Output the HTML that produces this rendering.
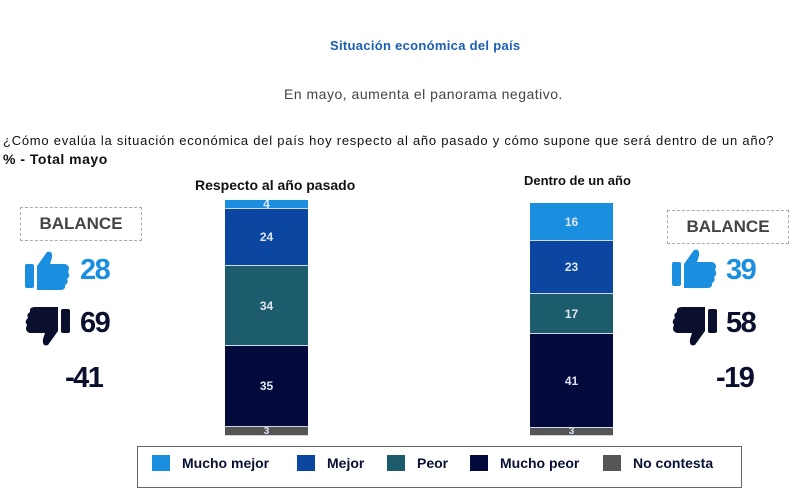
<!DOCTYPE html><html><head><meta charset="utf-8"><style>
body{margin:0;width:800px;height:473px;background:#fff;position:relative;overflow:hidden;font-family:"Liberation Sans",sans-serif;}
.a{position:absolute;white-space:nowrap}
.seg{position:absolute;left:0;width:100%;color:#dfe6f0;font-size:12px;font-weight:bold;display:flex;align-items:center;justify-content:center;border-bottom:1px solid #cfd8e6;box-sizing:border-box}
.bal{position:absolute;border:1.5px dashed #aaa;font-size:17px;font-weight:bold;color:#444;display:flex;align-items:center;justify-content:center}
.num{position:absolute;font-size:29px;font-weight:bold;letter-spacing:-1.5px}
.lg{position:absolute;top:455px;font-size:14px;font-weight:bold;color:#0a1035;display:flex;align-items:center}
.lg i{display:inline-block;width:18px;height:16px;margin-right:12px}
</style></head><body>
<div class="a" style="left:330px;top:38px;font-size:13px;font-weight:bold;color:#1a5fb4;letter-spacing:0.3px">Situación económica del país</div>
<div class="a" style="left:284px;top:86px;font-size:14px;color:#444;letter-spacing:0.5px">En mayo, aumenta el panorama negativo.</div>
<div class="a" style="left:3px;top:133px;font-size:13px;color:#111;letter-spacing:0.75px">¿Cómo evalúa la situación económica del país hoy respecto al año pasado y cómo supone que será dentro de un año?</div>
<div class="a" style="left:3px;top:151px;font-size:14px;font-weight:bold;color:#111;letter-spacing:0.5px">% - Total mayo</div>
<div class="a" style="left:195px;top:177px;font-size:14px;font-weight:bold;color:#111">Respecto al año pasado</div>
<div class="a" style="left:524px;top:173px;font-size:13px;font-weight:bold;color:#111">Dentro de un año</div>

<div class="a" style="left:225px;top:200px;width:83px;height:236px">
<div class="seg" style="top:0;height:9px;background:#1a8fe0">4</div>
<div class="seg" style="top:9px;height:57px;background:#0b47a0">24</div>
<div class="seg" style="top:66px;height:80px;background:#1d5c6c">34</div>
<div class="seg" style="top:146px;height:81px;background:#050a3c">35</div>
<div class="seg" style="top:227px;height:9px;background:#555;font-size:10px">3</div>
</div>
<div class="a" style="left:530px;top:203px;width:83px;height:233px">
<div class="seg" style="top:0;height:38px;background:#1a8fe0">16</div>
<div class="seg" style="top:38px;height:53px;background:#0b47a0">23</div>
<div class="seg" style="top:91px;height:40px;background:#1d5c6c">17</div>
<div class="seg" style="top:131px;height:94px;background:#050a3c">41</div>
<div class="seg" style="top:225px;height:8px;background:#555;font-size:10px">3</div>
</div>

<div class="bal" style="left:20px;top:207px;width:120px;height:32px">BALANCE</div>
<div class="bal" style="left:667px;top:210px;width:120px;height:32px">BALANCE</div>

<svg class="a" style="left:25px;top:250px" width="46" height="42" viewBox="0 0 46 42"><rect x="0" y="14" width="9" height="24" rx="2" fill="#1a8fe0"/><path d="M12 16 L22 2 Q28 0 27 8 L25 14 L40 14 Q46 16 43 22 Q46 26 42 29 Q44 33 40 35 Q41 40 35 40 L12 40Z" fill="#1a8fe0"/></svg>
<div class="num" style="left:80px;top:254px;color:#1a8fe0">28</div>
<svg class="a" style="left:24px;top:305px" width="46" height="42" viewBox="0 0 46 42"><rect x="37" y="4" width="9" height="24" rx="2" fill="#0a0f2e"/><path d="M34 26 L24 40 Q18 42 19 34 L21 28 L6 28 Q0 26 3 20 Q0 16 4 13 Q2 9 6 7 Q5 2 11 2 L34 2Z" fill="#0a0f2e"/></svg>
<div class="num" style="left:80px;top:307px;color:#0a0f2e">69</div>
<div class="num" style="left:65px;top:362px;color:#0a0f2e">-41</div>

<svg class="a" style="left:672px;top:248px" width="46" height="42" viewBox="0 0 46 42"><rect x="0" y="14" width="9" height="24" rx="2" fill="#1a8fe0"/><path d="M12 16 L22 2 Q28 0 27 8 L25 14 L40 14 Q46 16 43 22 Q46 26 42 29 Q44 33 40 35 Q41 40 35 40 L12 40Z" fill="#1a8fe0"/></svg>
<div class="num" style="left:726px;top:254px;color:#1a8fe0">39</div>
<svg class="a" style="left:671px;top:305px" width="46" height="42" viewBox="0 0 46 42"><rect x="37" y="4" width="9" height="24" rx="2" fill="#0a0f2e"/><path d="M34 26 L24 40 Q18 42 19 34 L21 28 L6 28 Q0 26 3 20 Q0 16 4 13 Q2 9 6 7 Q5 2 11 2 L34 2Z" fill="#0a0f2e"/></svg>
<div class="num" style="left:726px;top:307px;color:#0a0f2e">58</div>
<div class="num" style="left:716px;top:362px;color:#0a0f2e">-19</div>

<div class="a" style="left:137px;top:446px;width:603px;height:40px;border:1px solid #666"></div>
<div class="lg" style="left:152px"><i style="background:#1a8fe0"></i>Mucho mejor</div>
<div class="lg" style="left:297px"><i style="background:#0b47a0"></i>Mejor</div>
<div class="lg" style="left:387px"><i style="background:#1d5c6c"></i>Peor</div>
<div class="lg" style="left:470px"><i style="background:#050a3c"></i>Mucho peor</div>
<div class="lg" style="left:603px"><i style="background:#555"></i>No contesta</div>
</body></html>
